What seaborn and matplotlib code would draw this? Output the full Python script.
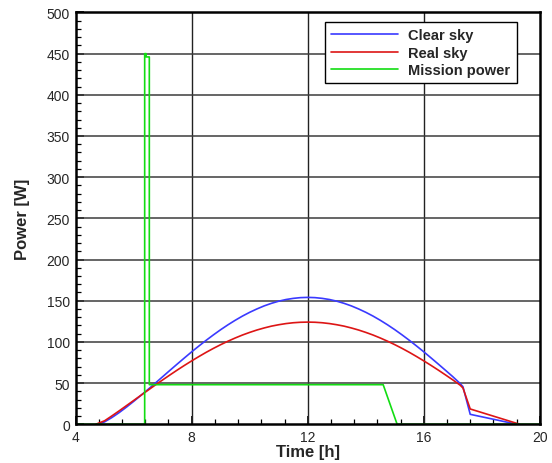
import matplotlib
matplotlib.use("Agg")
import matplotlib.pyplot as plt
from matplotlib.ticker import MultipleLocator
import numpy as np
import pandas as pd
import seaborn as sns

# Solar power over the day: time [h], power [W]
clear_time = [4.8, 5.0, 5.25, 5.5, 5.75, 6.0, 6.25, 6.5, 6.75, 7.0, 7.25, 7.5, 7.75,
              8.0, 8.25, 8.5, 8.75, 9.0, 9.25, 9.5, 9.75, 10.0, 10.25, 10.5, 10.75,
              11.0, 11.25, 11.5, 11.75, 12.0, 12.25, 12.5, 12.75, 13.0, 13.25, 13.5,
              13.75, 14.0, 14.25, 14.5, 14.75, 15.0, 15.25, 15.5, 15.75, 16.0, 16.25,
              16.5, 16.75, 17.0, 17.25, 17.35, 17.6, 19.2]
clear_power = [0, 2.9, 8.1, 14.1, 20.7, 27.7, 35.0, 42.4, 50.0, 57.7, 65.4, 73.0, 80.5,
               87.9, 95.0, 101.9, 108.5, 114.8, 120.7, 126.2, 131.3, 135.9, 140.0, 143.7, 146.8,
               149.4, 151.4, 152.8, 153.7, 154.0, 153.7, 152.8, 151.4, 149.4, 146.8, 143.7,
               140.0, 135.9, 131.3, 126.2, 120.7, 114.8, 108.5, 101.9, 95.0, 87.9, 80.5,
               73.0, 65.4, 57.7, 49.5, 45.5, 12.0, 0]

real_time = [4.7, 5.0, 5.25, 5.5, 5.75, 6.0, 6.25, 6.5, 6.75, 7.0, 7.25, 7.5, 7.75,
             8.0, 8.25, 8.5, 8.75, 9.0, 9.25, 9.5, 9.75, 10.0, 10.25, 10.5, 10.75,
             11.0, 11.25, 11.5, 11.75, 12.0, 12.25, 12.5, 12.75, 13.0, 13.25, 13.5,
             13.75, 14.0, 14.25, 14.5, 14.75, 15.0, 15.25, 15.5, 15.75, 16.0, 16.25,
             16.5, 16.75, 17.0, 17.25, 17.35, 17.6, 19.3]
real_power = [0, 4.2, 10.1, 16.2, 22.5, 28.8, 35.1, 41.4, 47.7, 53.8, 59.8, 65.7, 71.4,
              76.9, 82.2, 87.3, 92.1, 96.6, 100.8, 104.7, 108.3, 111.5, 114.4, 116.9, 119.1,
              120.8, 122.2, 123.2, 123.8, 124.0, 123.8, 123.2, 122.2, 120.8, 119.1, 116.9,
              114.4, 111.5, 108.3, 104.7, 100.8, 96.6, 92.1, 87.3, 82.2, 76.9, 71.4,
              65.7, 59.8, 53.8, 47.5, 44.0, 18.5, 0]

mission_time = [4.0, 6.38, 6.38, 6.43, 6.43, 6.54, 6.54, 14.6, 15.08, 20.0]
mission_power = [0, 0, 450, 450, 446, 446, 48, 48, 0, 0]

series_names = ["Clear sky", "Real sky", "Mission power"]
series_colors = ["#3a3aff", "#dd1515", "#12dd12"]

frames = [
    pd.DataFrame({"Time": clear_time, "Power": clear_power, "Series": series_names[0]}),
    pd.DataFrame({"Time": real_time, "Power": real_power, "Series": series_names[1]}),
    pd.DataFrame({"Time": mission_time, "Power": mission_power, "Series": series_names[2]}),
]
data = pd.concat(frames, ignore_index=True)

sns.set_style("white")
plt.rcParams["font.family"] = ["Liberation Sans", "DejaVu Sans"]

fig = plt.figure(figsize=(5.52, 4.64), dpi=100)
ax = fig.add_axes([0.137, 0.0836, 0.841, 0.8874])

# grid lines drawn beneath the curves
for xv in [8, 12, 16]:
    ax.axvline(xv, color="#222222", lw=1.0, zorder=1)
for yv in range(50, 500, 50):
    ax.axhline(yv, color="#3c3c3c", lw=1.1, zorder=1)

sns.lineplot(data=data, x="Time", y="Power", hue="Series", hue_order=series_names,
             palette=series_colors, sort=False, estimator=None, units="Series",
             lw=1.2, ax=ax, zorder=3, legend=False)

ax.set_xlim(4, 20)
ax.set_ylim(0, 500)
ax.xaxis.set_major_locator(MultipleLocator(4))
ax.xaxis.set_minor_locator(MultipleLocator(0.8))
ax.yaxis.set_major_locator(MultipleLocator(50))
ax.yaxis.set_minor_locator(MultipleLocator(10))
ax.tick_params(axis="both", which="major", direction="in", length=6, width=1.2,
               color="black", bottom=True, left=True, labelsize=10)
ax.tick_params(axis="both", which="minor", direction="in", length=3.5, width=0.9,
               color="black", bottom=True, left=True)
ax.tick_params(axis="x", which="major", pad=4)
ax.tick_params(axis="y", which="major", pad=4)

for side in ["left", "bottom", "top", "right"]:
    ax.spines[side].set_color("black")
    ax.spines[side].set_linewidth(1.8)
    ax.spines[side].set_zorder(5)

ax.set_xlabel("Time [h]", fontsize=12, fontweight="bold", labelpad=0)
ax.set_ylabel("Power [W]", fontsize=12, fontweight="bold", labelpad=12)

handles = [plt.Line2D([], [], color=c, lw=1.2) for c in series_colors]
leg = ax.legend(handles, series_names, loc="upper right", bbox_to_anchor=(0.951, 0.977),
                frameon=True, fancybox=False, framealpha=1, edgecolor="black",
                prop={"weight": "bold", "size": 10.5}, handlelength=4.6,
                labelspacing=0.22, borderpad=0.45, handletextpad=0.7, borderaxespad=0)
leg.get_frame().set_linewidth(1.0)
leg.set_zorder(10)

fig.savefig("out.png", dpi=100)
